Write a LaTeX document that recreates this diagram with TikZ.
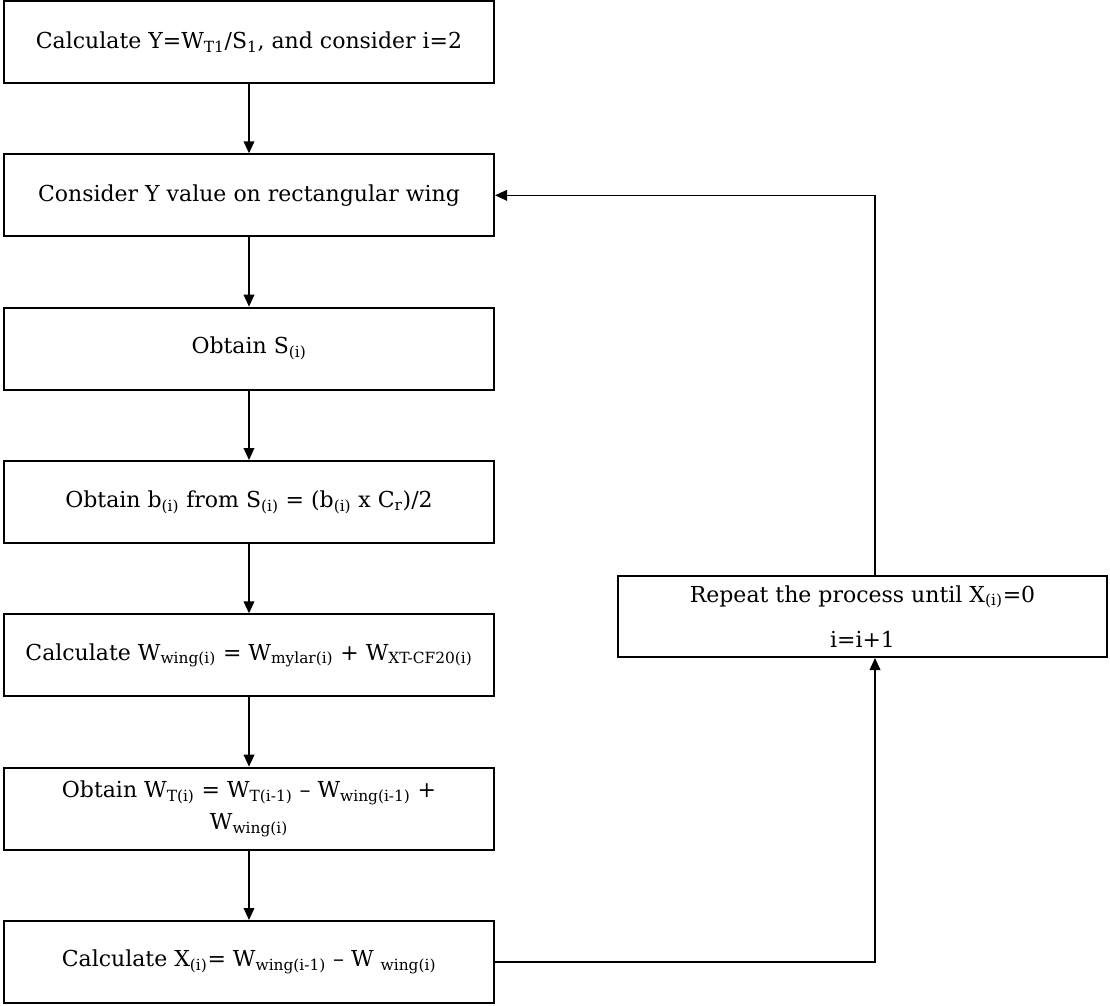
\documentclass[tikz,border=0pt]{standalone}
\usepackage{fontspec}
\setmainfont{DejaVu Serif}
\usetikzlibrary{arrows.meta,positioning,calc}

\begin{document}
\begin{tikzpicture}[x=0.75pt,y=-0.75pt,
        stepbox/.style={rectangle, draw=black, line width=1.5pt, minimum width=367.5pt, minimum height=61.5pt,
        inner sep=2pt, text centered, align=center, font=\fontsize{16.5}{24}\selectfont},
        flow/.style={-{Triangle[length=9pt,width=8pt]}, line width=1.1pt},
        node distance=52pt]
        \useasboundingbox (0,0) rectangle (1110,1006);

        \node (calcY) [stepbox] at (249,42) {Calculate Y=W\textsubscript{T1}/S\textsubscript{1}, and consider i=2};
        \node (consY) [stepbox, below=of calcY] {Consider Y value on rectangular wing};
        \node (obtS) [stepbox, below=of consY] {Obtain S\textsubscript{(i)}};
        \node (obtB) [stepbox, below=of obtS] {Obtain b\textsubscript{(i)} from S\textsubscript{(i)} = (b\textsubscript{(i)} x C\textsubscript{r})/2};
        \node (calcW) [stepbox, below=of obtB] {Calculate W\textsubscript{wing(i)} = W\textsubscript{mylar(i)} + W\textsubscript{XT-CF20(i)}};
        \node (obtWT) [stepbox, below=of calcW] {Obtain W\textsubscript{T(i)} = W\textsubscript{T(i-1)} -- W\textsubscript{wing(i-1)} +\\ W\textsubscript{wing(i)}};
        \node (calcX) [stepbox, below=of obtWT] {Calculate X\textsubscript{(i)}= W\textsubscript{wing(i-1)} -- W \textsubscript{wing(i)}};

        \node (repeat) [stepbox, minimum width=366.75pt, minimum height=60.75pt] at (862.5,616.5)
        {Repeat the process until X\textsubscript{(i)}=0\\[10pt] i=i+1};
        \coordinate (loop) at (875,0);

        \draw[flow] (calcY) -- (consY);
        \draw[flow] (consY) -- (obtS);
        \draw[flow] (obtS) -- (obtB);
        \draw[flow] (obtB) -- (calcW);
        \draw[flow] (calcW) -- (obtWT);
        \draw[flow] (obtWT) -- (calcX);
        \draw[flow] (calcX.east) -| (repeat.south -| loop);
        \draw[flow] (repeat.north -| loop) |- (consY.east);
    \end{tikzpicture}
\end{document}
